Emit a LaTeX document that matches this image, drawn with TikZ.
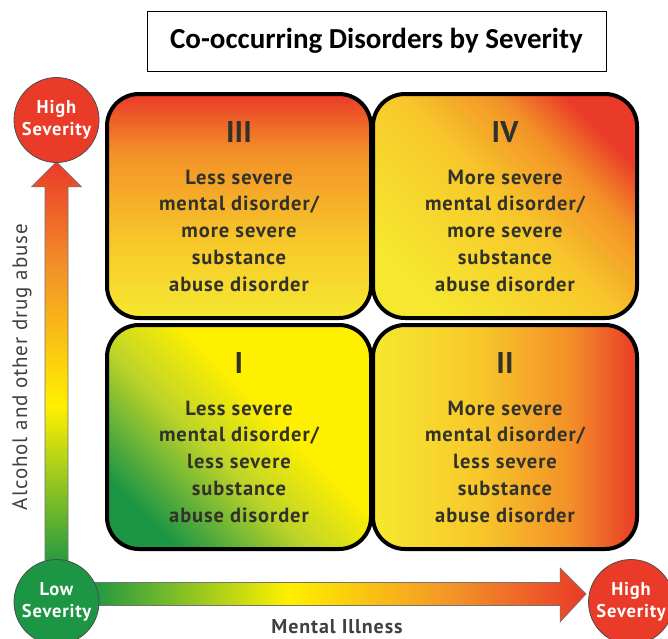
\documentclass[tikz,border=0pt]{standalone}
\usepackage{fontspec}
\setmainfont{PT Sans}
\newfontfamily\titlefont{Carlito}
\newfontfamily\quadfont{PT Sans}[LetterSpace=4.5]
\usetikzlibrary{calc,positioning,backgrounds}

\definecolor{sevred}{RGB}{234,58,40}
\definecolor{sevorange}{RGB}{243,145,40}
\definecolor{sevyellow}{RGB}{255,240,0}
\definecolor{sevgreen}{RGB}{28,150,68}
\definecolor{boxyellow}{RGB}{246,232,48}
\definecolor{boxamber}{RGB}{247,200,42}
\definecolor{boxlime}{RGB}{190,212,40}
\definecolor{inktext}{RGB}{50,50,42}

\pgfdeclarehorizontalshading{axisgrad}{100bp}{color(0bp)=(sevgreen); color(25bp)=(sevgreen); color(45bp)=(sevyellow); color(62bp)=(sevorange); color(75bp)=(sevred); color(100bp)=(sevred)}
\pgfdeclareverticalshading{boxthree}{100bp}{color(0bp)=(boxyellow); color(25bp)=(boxyellow); color(42bp)=(boxamber); color(62bp)=(sevorange); color(75bp)=(sevred); color(100bp)=(sevred)}
\pgfdeclarehorizontalshading{boxfour}{100bp}{color(0bp)=(boxyellow); color(25bp)=(boxyellow); color(50bp)=(boxamber); color(65bp)=(sevorange); color(75bp)=(sevred); color(100bp)=(sevred)}
\pgfdeclarehorizontalshading{boxone}{100bp}{color(0bp)=(sevgreen); color(25bp)=(sevgreen); color(44bp)=(boxlime); color(58bp)=(sevyellow); color(75bp)=(sevyellow); color(100bp)=(sevyellow)}
\pgfdeclarehorizontalshading{boxtwo}{100bp}{color(0bp)=(boxyellow); color(25bp)=(boxyellow); color(45bp)=(boxamber); color(62bp)=(sevorange); color(75bp)=(sevred); color(100bp)=(sevred)}

\tikzset{
  quadbox/.style={draw=black, line width=4pt, rounded corners=32pt, minimum width=264pt, minimum height=224pt, inner sep=0pt},
  numeral/.style={font=\bfseries\fontsize{30}{30}\selectfont, text=inktext},
  quadtext/.style={align=center, font=\quadfont\bfseries\fontsize{20.5}{26.75}\selectfont, text=inktext},
  sevcircle/.style={circle, draw=black!70, line width=0.8pt, minimum size=85pt, inner sep=0pt, align=center, text=white, font=\quadfont\bfseries\fontsize{18.5}{22}\selectfont},
  axisarrow/.style={draw=black!55, line width=0.6pt, shading=axisgrad},
  axislabel/.style={font=\quadfont\fontsize{21}{21}\selectfont, text=black!75},
}

\begin{document}
\begin{tikzpicture}[x=1pt,y=-1pt]
	\useasboundingbox (0,0) rectangle (668,638);
	%%%%% START %%%%%
	\node[draw, line width=0.9pt, minimum width=459pt, minimum height=60pt, font=\titlefont\bfseries\fontsize{29}{29}\selectfont] (title) at (376.5,41) {Co-occurring Disorders by Severity};
	
	% quadrants
	\node[quadbox, shading=boxthree] (q3) at (239,206) {};
	\node[quadbox, shading=boxfour, shading angle=45] (q4) at (505,206) {};
	\node[quadbox, shading=boxone, shading angle=45] (q1) at (239,437) {};
	\node[quadbox, shading=boxtwo] (q2) at (505,437) {};
	
	\node[numeral] (q3num) at ($(q3.north)+(0,40)$) {III};
	\node[numeral] (q4num) at ($(q4.north)+(0,40)$) {IV};
	\node[numeral] (q1num) at ($(q1.north)+(0,40)$) {I};
	\node[numeral] (q2num) at ($(q2.north)+(0,40)$) {II};
	
	\node[quadtext] (q3txt) at ($(q3.north)+(0,138.5)$) {Less severe\\mental disorder/\\more severe\\substance\\abuse disorder};
	\node[quadtext] (q4txt) at ($(q4.north)+(0,138.5)$) {More severe\\mental disorder/\\more severe\\substance\\abuse disorder};
	\node[quadtext] (q1txt) at ($(q1.north)+(0,138.5)$) {Less severe\\mental disorder/\\less severe\\substance\\abuse disorder};
	\node[quadtext] (q2txt) at ($(q2.north)+(0,138.5)$) {More severe\\mental disorder/\\less severe\\substance\\abuse disorder};
	
	% severity ends
	\node[sevcircle, fill=sevred] (hiy) at (56.5,120) {High\\Severity};
	\node[sevcircle, fill=sevgreen] (lo) at (56.5,602) {Low\\Severity};
	\node[sevcircle, fill=sevred] (hix) at (631,602) {High\\Severity};
	
	\begin{pgfonlayer}{background}
		\path[axisarrow, shading angle=90] ($(lo.north)+(-11.5,10)$) -- ($(hiy.south)+(-11.5,24)$) -- ($(hiy.south)+(-25,24)$) -- ($(hiy.south)+(0,-1)$) -- ($(hiy.south)+(25,24)$) -- ($(hiy.south)+(11.5,24)$) -- ($(lo.north)+(11.5,10)$) -- cycle;
		\path[axisarrow] ($(lo.east)+(-10,-19.5)$) -- ($(hix.west)+(-28,-19.5)$) -- ($(hix.west)+(-28,-34)$) -- ($(hix.west)+(-2,-8)$) -- ($(hix.west)+(-28,20)$) -- ($(hix.west)+(-28,3.5)$) -- ($(lo.east)+(-10,3.5)$) -- cycle;
	\end{pgfonlayer}
	
	\node[axislabel, rotate=90] (ylab) at (22,367) {Alcohol and other drug abuse};
	\node[axislabel, font=\quadfont\bfseries\fontsize{20}{20}\selectfont] (xlab) at (337,627) {Mental Illness};
	%%%%% END %%%%%
\end{tikzpicture}
\end{document}
